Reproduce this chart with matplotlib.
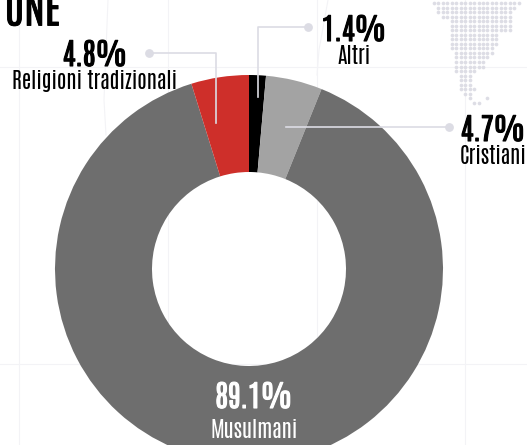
import matplotlib
matplotlib.use("Agg")
import matplotlib.pyplot as plt
import matplotlib.patheffects as pe

labels = ["Altri", "Cristiani", "Musulmani", "Religioni tradizionali"]
values = [1.4, 4.7, 89.1, 4.8]
colors = ["#000000", "#A3A3A3", "#6E6E6E", "#CE2F2A"]
pct = ["1.4%", "4.7%", "89.1%", "4.8%"]

# dot map: row y, first column, last column
map_y = [3, 8, 12, 17, 21, 26, 30, 35, 39, 44, 48, 53, 57, 62, 67, 71, 76, 80, 85, 89, 94, 98, 103]
map_c0 = [0, 1, 1, 2, 4, 4, 4, 4, 4, 4, 4, 5, 5, 5, 5, 5, 6, 6, 6, 6, 7, 8, 9]
map_c1 = [19, 18, 17, 17, 17, 17, 17, 14, 14, 14, 13, 13, 12, 11, 11, 9, 8, 8, 8, 9, 8, 8, 10]
map_extra = [(12, 98)]

W, H = 527, 445
CX, CY, R = 249, 269, 194
LINE = "#DCDCE4"; GRID = "#F3F3F6"; DOT = "#DDDDE5"

fig = plt.figure(figsize=(W/100, H/100), dpi=100)
ax = fig.add_axes([0, 0, 1, 1])

# faint backdrop lines
for y in [67, 364]:
    ax.plot([0, W], [-y, -y], color=GRID, lw=0.8, zorder=0)
for x in [19, 168, 317, 465]:
    ax.plot([x, x], [0, -H], color=GRID, lw=0.8, zorder=0)
ax.plot([108, 104, 106], [0, -100, -135], color=GRID, lw=0.8, zorder=0)
ax.plot([328, 319, 317], [0, -50, -75], color=GRID, lw=0.8, zorder=0)

for y, c0, c1 in zip(map_y, map_c0, map_c1):
    xs = [434 + 4.45*c for c in range(c0, c1+1)]
    ax.scatter(xs, [-y]*len(xs), s=7, color=DOT, lw=0, zorder=1)
for c, y in map_extra:
    ax.scatter(434 + 4.45*c, -y, s=7, color=DOT, lw=0, zorder=1)

ax.pie(values, colors=colors, startangle=90, counterclock=False, center=(CX, -CY), radius=R,
       wedgeprops=dict(width=R/2, linewidth=0), frame=True)
ax.set_xlim(0, W); ax.set_ylim(-H, 0); ax.set_aspect("auto"); ax.axis("off")

# leader lines
leaders = [([258, 258, 308], [97, 27, 27]),
           ([286, 449], [127, 127]),
           ([216, 216, 149], [123, 53, 53])]
for xs, ys in leaders:
    ax.plot(xs, [-v for v in ys], color=LINE, lw=1.2, zorder=5)
    ax.scatter(xs[-1], -ys[-1], s=40, color=LINE, lw=0, zorder=5)

FONT = ["Antonio", "Oswald", "Liberation Sans Narrow", "DejaVu Sans"]
def lab(x, y1, y2, p, t, col, s1=21.5, s2=15.5):
    a = ax.text(x, -y1, p, ha="center", va="center", family=FONT, fontsize=s1, color=col)
    a.set_path_effects([pe.withStroke(linewidth=0.8, foreground=col)])
    ax.text(x, -y2, t, ha="center", va="center", family=FONT, fontsize=s2, color=col)

lab(354, 30, 56, pct[0], labels[0], "#000000")
lab(493, 130, 156, pct[1], labels[1], "#000000")
lab(254, 397, 430, pct[2], labels[2], "#FFFFFF")
lab(95, 55, 81, pct[3], labels[3], "#000000")
t = ax.text(60, -10, "UNE", ha="right", va="center", family=FONT, fontsize=30, color="#000000")
t.set_path_effects([pe.withStroke(linewidth=0.6, foreground="#000000")])
fig.savefig("out.png", dpi=100)
